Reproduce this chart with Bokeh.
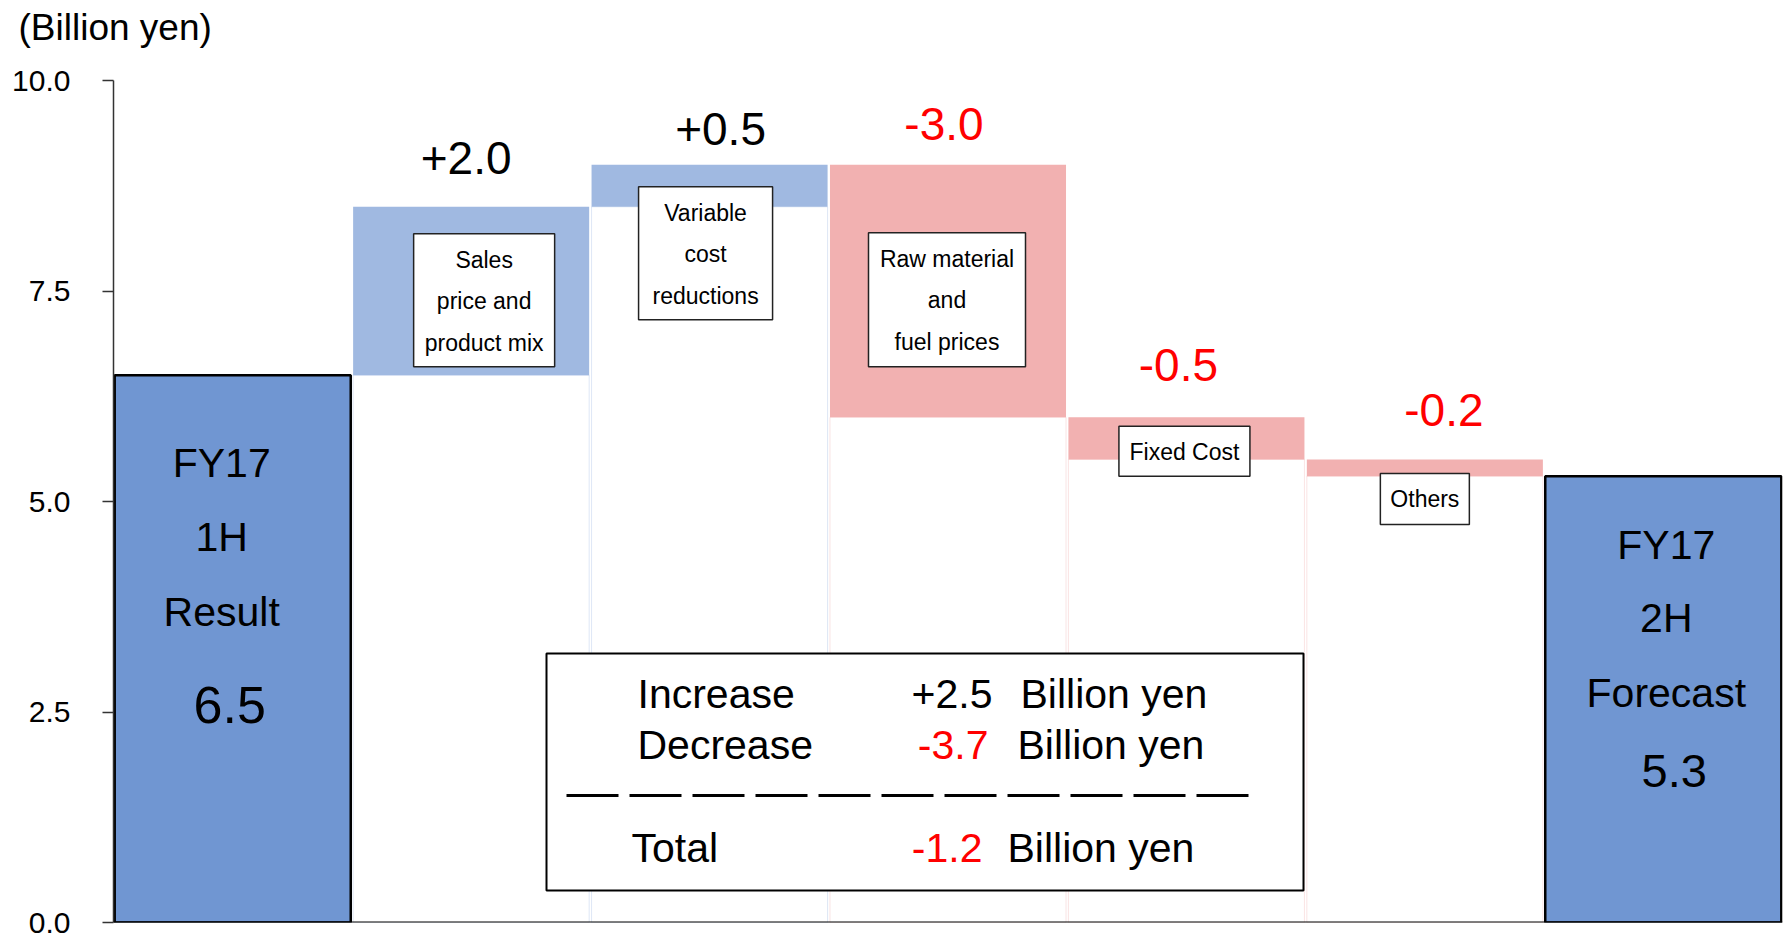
from bokeh.plotting import figure
from bokeh.models import Range1d, FixedTicker, Span, NumeralTickFormatter, ColumnDataSource
from bokeh.embed import file_html
from bokeh.resources import INLINE
from bokeh.core.properties import value

# ---------------- data ----------------
categories = ["FY17 1H Result", "Sales price and product mix", "Variable cost reductions",
              "Raw material and fuel prices", "Fixed Cost", "Others", "FY17 2H Forecast"]
start_value = 6.5
changes = [2.0, 0.5, -3.0, -0.5, -0.2]
end_value = 5.3
change_labels = ["+2.0", "+0.5", "-3.0", "-0.5", "-0.2"]
box_labels = [["Sales", "price and", "product mix"],
              ["Variable", "cost", "reductions"],
              ["Raw material", "and", "fuel prices"],
              ["Fixed Cost"],
              ["Others"]]
total_labels = [["FY17", "1H", "Result"], ["FY17", "2H", "Forecast"]]
total_value_labels = ["6.5", "5.3"]
y_ticks = [0, 2.5, 5, 7.5, 10]
summary_rows = ["Increase", "Decrease", "Total"]
summary_values = ["+2.5", "-3.7", "-1.2"]
summary_unit = "Billion yen"
unit_title = "(Billion yen)"

# ---------------- styles / layout ----------------
FONT = "Liberation Sans"
C_TOTAL = "#7096D2"
C_UP = "#A0B9E1"
C_DOWN = "#F2B1B1"
RED = "#FF0000"
W, H = 1790, 933
F_LEFT, F_RIGHT, F_TOP, F_BOTTOM = 113, 1782, 50, 922
PPU = 84.2
Y_END = (F_BOTTOM - F_TOP) / PPU
N = len(categories)
PPC = (F_RIGHT - F_LEFT) / N


def xd(px):
    return (px - F_LEFT) / PPC


def yd(py):
    return (F_BOTTOM - py) / PPU


def bl(fs):
    # renderer baseline correction (pixels, upward) for a font size
    return round(0.39 * fs)


p = figure(width=W, height=H, x_range=Range1d(0, N), y_range=Range1d(0, Y_END),
           output_backend="svg", toolbar_location=None,
           min_border_left=F_LEFT, min_border_right=W - F_RIGHT,
           min_border_top=F_TOP, min_border_bottom=H - F_BOTTOM)
p.outline_line_color = None
p.xgrid.visible = False
p.ygrid.visible = False
p.xaxis.visible = False
p.background_fill_color = "white"
p.border_fill_color = "white"

p.title.text = unit_title
p.title.text_font = FONT
p.title.text_font_size = "37px"
p.title.text_font_style = "normal"
p.title.text_color = "black"
p.title.align = "left"
p.title.offset = -(F_LEFT - 18)
p.title.standoff = 6

ya = p.yaxis[0]
ya.ticker = FixedTicker(ticks=y_ticks)
ya.formatter = NumeralTickFormatter(format="0.0")
ya.bounds = (0, 10)
ya.major_label_text_font = FONT
ya.major_label_text_font_size = "30px"
ya.major_label_text_color = "black"
ya.major_tick_out = 11
ya.major_tick_in = 0
ya.minor_tick_out = 0
ya.minor_tick_in = 0
ya.major_label_standoff = 32
ya.axis_line_width = 1.5
ya.axis_line_color = "#333333"
ya.major_tick_line_color = "#333333"
ya.major_tick_line_width = 1.5

# ---------------- waterfall geometry ----------------
xs = [i + 0.5 for i in range(N)]
level = [start_value]
for c in changes:
    level.append(round(level[-1] + c, 2))
d_bottom = [min(level[i], level[i + 1]) for i in range(len(changes))]
d_top = [max(level[i], level[i + 1]) for i in range(len(changes))]
d_color = [C_UP if c > 0 else C_DOWN for c in changes]
d_x = xs[1:1 + len(changes)]
BW = 0.99

# invisible base bars (faint outline)
p.vbar(x=d_x, bottom=0, top=d_bottom, width=BW, fill_alpha=0,
       line_color=d_color, line_alpha=0.35, line_width=1)
# delta bars
p.vbar(x=d_x, bottom=d_bottom, top=d_top, width=BW, fill_color=d_color, line_color=None)
# total bars
p.vbar(x=[xs[0], xs[-1]], bottom=0, top=[start_value, end_value], width=BW,
       fill_color=C_TOTAL, line_color="black", line_width=2.5)

# x axis line
p.add_layout(Span(location=0, dimension="width", line_color="black", line_width=2))

# change labels above bars
FS_CH = 46
lab_dx = [-5, 11, -4, -8, 19]
lab_dy = [-31, -18, -23, -34, -31]
src = ColumnDataSource(dict(x=d_x, y=d_top, text=change_labels, dx=lab_dx,
                            dy=[d - bl(FS_CH) for d in lab_dy],
                            color=["black" if c > 0 else RED for c in changes]))
p.text(x="x", y="y", text="text", x_offset="dx", y_offset="dy", source=src,
       text_color="color", text_font=value(FONT), text_font_size=f"{FS_CH}px",
       text_align="center", text_baseline="alphabetic")

# boxed category labels
FS_BOX = 23
box_dx = [13, -4, -1, -2, 0]
box_dtop = [27, 22, 68, 9, 14]
box_w = [141, 134, 157, 131, 89]
box_h = [133, 133, 134, 50, 51]
for i, lines in enumerate(box_labels):
    cx = d_x[i] + box_dx[i] / PPC
    top_px = F_BOTTOM - d_top[i] * PPU + box_dtop[i]
    cy = yd(top_px + box_h[i] / 2)
    p.rect(x=[cx], y=[cy], width=box_w[i], height=box_h[i], width_units="screen",
           height_units="screen", fill_color="white", line_color="#222222", line_width=1.5)
    for k, t in enumerate(lines):
        p.text(x=[cx], y=[d_top[i]], text=[t],
               y_offset=box_dtop[i] + 35 + k * 41.5 - bl(FS_BOX),
               text_font=value(FONT), text_font_size=f"{FS_BOX}px", text_color="black",
               text_align="center", text_baseline="alphabetic")

# total bar labels
FS_TOT = 41
tot_vals = [start_value, end_value]
tot_x = [xs[0], xs[-1]]
line_dx = [-11, 3]
line_dy = [[104, 178, 253], [85, 158, 233]]
val_dx = [-3, 11]
val_dy = [350, 313]
val_size = [52, 47]
for j in range(2):
    for k, t in enumerate(total_labels[j]):
        p.text(x=[tot_x[j]], y=[tot_vals[j]], text=[t], x_offset=line_dx[j],
               y_offset=line_dy[j][k] - bl(FS_TOT),
               text_font=value(FONT), text_font_size=f"{FS_TOT}px", text_color="black",
               text_align="center", text_baseline="alphabetic")
    p.text(x=[tot_x[j]], y=[tot_vals[j]], text=[total_value_labels[j]], x_offset=val_dx[j],
           y_offset=val_dy[j] - bl(val_size[j]), text_font=value(FONT),
           text_font_size=f"{val_size[j]}px",
           text_color="black", text_align="center", text_baseline="alphabetic")

# summary box
FS_SUM = 41
p.quad(left=[xd(546)], right=[xd(1303)], top=[yd(653)], bottom=[yd(890)],
       fill_color="white", line_color="black", line_width=2)
row_y = [yd(709 - bl(FS_SUM)), yd(760 - bl(FS_SUM)), yd(863 - bl(FS_SUM))]
row_lx = [xd(637), xd(637), xd(631)]
row_vx = [xd(992), xd(988), xd(982)]
row_ux = [xd(1020), xd(1017), xd(1007)]
val_colors = ["black" if v.startswith("+") else RED for v in summary_values]
p.text(x=row_lx, y=row_y, text=summary_rows, text_font=value(FONT), text_font_size=f"{FS_SUM}px",
       text_color="black", text_align="left", text_baseline="alphabetic")
p.text(x=row_vx, y=row_y, text=summary_values, text_font=value(FONT), text_font_size=f"{FS_SUM}px",
       text_color=val_colors, text_align="right", text_baseline="alphabetic")
p.text(x=row_ux, y=row_y, text=[summary_unit] * 3, text_font=value(FONT),
       text_font_size=f"{FS_SUM}px",
       text_color="black", text_align="left", text_baseline="alphabetic")
p.line(x=[xd(566), xd(1250)], y=[yd(795), yd(795)], line_color="black", line_width=3,
       line_dash="52 11")

open("out.html", "w").write(file_html(p, INLINE))
